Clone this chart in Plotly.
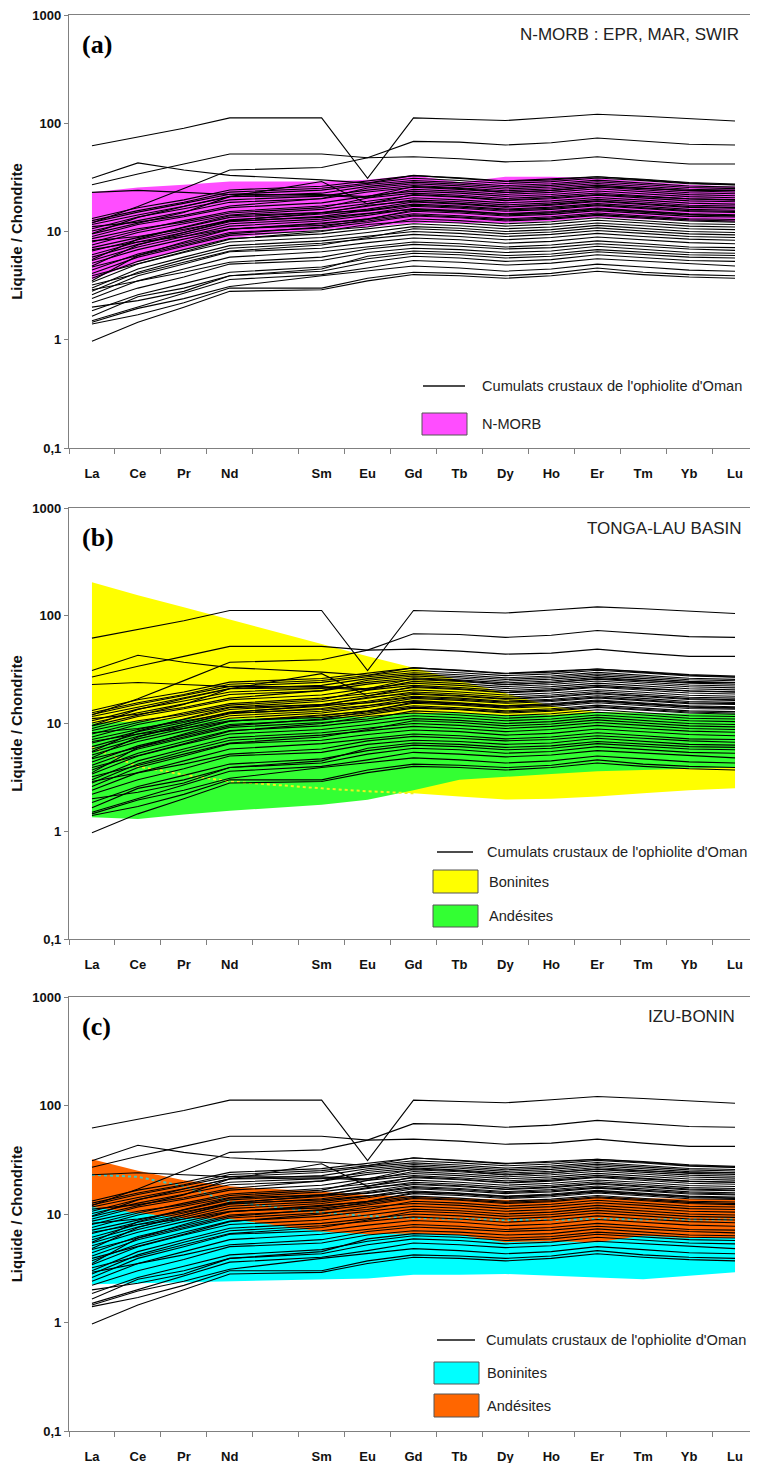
import plotly.graph_objects as go

# ---------------- data ----------------
SLOTS = ["La", "Ce", "Pr", "Nd", "Pm", "Sm", "Eu", "Gd", "Tb", "Dy", "Ho", "Er", "Tm", "Yb", "Lu"]
ELEMENTS = ["La", "Ce", "Pr", "Nd", "Sm", "Eu", "Gd", "Tb", "Dy", "Ho", "Er", "Tm", "Yb", "Lu"]
Y_TICKVALS = [0.1, 1, 10, 100, 1000]
Y_TICKTEXT = ["0,1", "1", "10", "100", "1000"]

# Oman ophiolite crustal cumulates (chondrite-normalised), one row per sample
OMAN_CUMULATES = [
    [62, 75, 90, 112, 112, 31, 112, 109, 106, 113, 121, 116, 110, 105],
    [27, 34, 42, 52, 52, 48, 68, 67, 63, 66, 73, 68, 64, 63],
    [31, 43, 37, 33, 30, 28, 33, 31, 29, 30, 32, 30, 28, 27],
    [12, 17, 25, 37, 39, 48, 49, 47, 44, 45, 49, 45, 42, 42],
    [23, 24, 23, 22, 22, 21, 26, 25, 23, 24, 26, 25, 24, 24],
    [9.5, 12, 15, 21, 29, 18, 22, 21, 19.5, 20.5, 22, 21, 20, 19.5],
    [7.5, 9.8, 11.8, 14.2, 16.0, 18.2, 20.5, 19.6, 18.4, 19.2, 20.6, 19.5, 18.3, 17.9],
    [8.0, 10.2, 12.6, 15.3, 17.2, 19.0, 21.6, 20.7, 19.3, 20.1, 21.7, 20.5, 19.2, 18.8],
    [8.6, 10.6, 12.2, 14.8, 16.6, 20.4, 22.6, 21.6, 20.2, 21.1, 22.7, 21.5, 20.1, 19.7],
    [9.0, 11.6, 13.7, 16.6, 18.4, 21.2, 23.6, 22.6, 21.1, 22.0, 23.7, 22.4, 21.0, 20.5],
    [9.6, 13.5, 17.0, 21.0, 21.5, 20.5, 24.6, 23.5, 22.0, 23.0, 24.8, 23.4, 21.9, 21.4],
    [10.1, 12.6, 15.2, 18.6, 20.1, 23.2, 25.6, 24.5, 22.9, 23.9, 25.8, 24.4, 22.8, 22.3],
    [10.6, 13.6, 16.2, 19.6, 21.2, 24.1, 26.6, 25.4, 23.8, 24.8, 26.8, 25.3, 23.7, 23.2],
    [11.1, 12.2, 14.1, 17.2, 20.2, 25.2, 27.6, 26.4, 24.7, 25.8, 27.8, 26.3, 24.6, 24.0],
    [11.6, 14.2, 17.1, 21.1, 22.6, 26.1, 28.6, 27.3, 25.6, 26.7, 28.8, 27.2, 25.5, 24.9],
    [12.1, 15.1, 18.2, 22.1, 24.1, 27.2, 29.6, 28.3, 26.5, 27.6, 29.8, 28.2, 26.3, 25.7],
    [12.6, 15.6, 18.6, 23.1, 25.1, 28.1, 31.0, 29.6, 27.8, 28.9, 31.2, 29.5, 27.6, 26.9],
    [13.2, 16.6, 19.6, 24.2, 26.2, 29.2, 32.8, 31.3, 29.3, 30.6, 32.0, 30.4, 28.4, 27.5],
    [5.5, 8.5, 11.0, 14.0, 15.0, 15.5, 17.5, 16.8, 15.8, 16.4, 17.6, 16.7, 15.6, 15.3],
    [8.2, 9.0, 10.5, 12.5, 13.5, 14.8, 16.0, 15.4, 14.5, 15.0, 16.2, 15.3, 14.4, 14.0],
    [4.8, 7.5, 9.8, 12.6, 14.8, 17.5, 19.0, 18.2, 17.0, 17.8, 19.2, 18.1, 17.0, 16.6],
    [6.8, 8.0, 9.0, 10.6, 11.4, 12.5, 14.2, 13.6, 12.8, 13.3, 14.4, 13.6, 12.8, 12.5],
    [3.5, 6.0, 8.0, 10.5, 12.0, 13.0, 15.8, 15.2, 14.2, 14.8, 16.0, 15.1, 14.2, 13.9],
    [2.9, 3.5, 4.2, 5.2, 5.8, 6.9, 7.6, 7.3, 6.9, 7.1, 7.7, 7.3, 6.9, 6.7],
    [2.4, 3.5, 4.5, 5.8, 6.5, 7.2, 8.0, 7.7, 7.2, 7.5, 8.2, 7.7, 7.2, 7.1],
    [2.6, 3.9, 5.0, 6.5, 7.0, 7.9, 8.7, 8.4, 7.8, 8.1, 8.9, 8.4, 7.9, 7.7],
    [2.8, 4.2, 5.5, 7.0, 7.8, 8.5, 9.4, 9.0, 8.4, 8.8, 9.6, 9.0, 8.5, 8.3],
    [3.0, 4.5, 5.8, 7.4, 8.2, 9.1, 10.0, 9.6, 9.0, 9.4, 10.2, 9.6, 9.0, 8.8],
    [3.2, 4.1, 5.2, 6.6, 7.5, 8.8, 10.6, 10.2, 9.5, 9.9, 10.8, 10.1, 9.5, 9.3],
    [3.4, 5.0, 6.4, 8.0, 8.8, 9.8, 11.1, 10.7, 10.0, 10.4, 11.4, 10.7, 10.0, 9.8],
    [3.7, 5.3, 6.8, 8.6, 9.5, 10.6, 11.8, 11.3, 10.6, 11.0, 12.0, 11.3, 10.6, 10.4],
    [3.9, 5.0, 6.5, 8.5, 10.0, 11.6, 12.5, 12.0, 11.2, 11.7, 12.7, 12.0, 11.2, 11.0],
    [4.1, 5.8, 7.3, 9.2, 10.2, 11.0, 13.1, 12.6, 11.8, 12.3, 13.4, 12.6, 11.8, 11.6],
    [4.4, 6.2, 7.8, 9.8, 10.8, 12.1, 13.9, 13.4, 12.5, 13.0, 14.1, 13.3, 12.5, 12.2],
    [4.7, 6.0, 7.5, 9.5, 11.0, 12.9, 14.6, 14.0, 13.1, 13.7, 14.8, 14.0, 13.1, 12.9],
    [5.1, 6.8, 8.5, 10.5, 11.8, 13.1, 15.4, 14.8, 13.9, 14.4, 15.6, 14.7, 13.8, 13.6],
    [5.4, 7.2, 9.0, 11.2, 12.5, 14.1, 16.3, 15.6, 14.6, 15.3, 16.5, 15.5, 14.6, 14.3],
    [5.8, 7.6, 9.4, 11.8, 13.0, 14.6, 17.1, 16.4, 15.4, 16.0, 17.3, 16.3, 15.3, 15.0],
    [6.1, 8.0, 9.8, 12.3, 13.8, 15.6, 17.9, 17.2, 16.1, 16.8, 18.1, 17.1, 16.0, 15.7],
    [6.6, 8.4, 10.2, 12.8, 14.5, 16.1, 18.7, 17.9, 16.8, 17.5, 18.9, 17.8, 16.7, 16.4],
    [7.1, 8.8, 10.8, 13.5, 15.0, 17.1, 19.6, 18.8, 17.6, 18.4, 19.8, 18.7, 17.5, 17.2],
    [0.97, 1.45, 2.0, 2.8, 2.9, 3.5, 4.0, 3.9, 3.7, 3.9, 4.3, 4.0, 3.8, 3.7],
    [1.4, 1.7, 2.2, 3.0, 3.0, 3.7, 4.2, 4.1, 3.9, 4.1, 4.6, 4.2, 4.0, 3.9],
    [1.45, 1.95, 2.4, 3.1, 3.9, 4.3, 4.8, 4.6, 4.3, 4.5, 5.0, 4.7, 4.4, 4.3],
    [1.5, 2.0, 2.7, 3.6, 4.0, 4.6, 5.4, 5.2, 4.9, 5.1, 5.6, 5.3, 5.0, 4.8],
    [1.65, 2.5, 3.0, 3.9, 4.3, 5.2, 5.9, 5.7, 5.3, 5.5, 6.1, 5.7, 5.4, 5.3],
    [1.85, 2.6, 3.3, 4.2, 4.7, 5.6, 6.3, 6.1, 5.7, 5.9, 6.5, 6.1, 5.8, 5.7],
    [2.0, 2.3, 2.8, 3.9, 4.5, 5.9, 6.6, 6.4, 6.0, 6.2, 6.8, 6.4, 6.1, 6.0],
    [2.2, 3.0, 3.8, 5.0, 5.4, 6.4, 7.0, 6.8, 6.4, 6.6, 7.3, 6.8, 6.4, 6.3],
]

# (a) N-MORB field (EPR, MAR, SWIR)
NMORB_UPPER = [23, 25.5, 27, 29, 29, 30, 33, 28.5, 32, 32, 31, 29, 27, 26]
NMORB_LOWER = [3.6, 5.2, 6.8, 8.7, 10.5, 11, 12, 12, 12, 12.5, 13.5, 13, 12.5, 12.3]

# (b) Tonga-Lau basin fields
TONGA_BON_UPPER = [205, 155, 120, 92, 54, 42, 33, 25, 19, 14.5, 12.8, 12.5, 12, 12]
TONGA_BON_LOWER = [6.0, 4.0, 3.35, 2.9, 2.5, 2.35, 2.25, 2.1, 1.97, 2.0, 2.1, 2.25, 2.4, 2.5]
TONGA_AND_UPPER = [10, 10.5, 11, 11, 11.5, 11.5, 12.5, 12.5, 12, 12, 12.8, 12.5, 12.3, 12.4]
TONGA_AND_LOWER = [1.35, 1.3, 1.43, 1.55, 1.76, 1.96, 2.4, 3.0, 3.2, 3.4, 3.6, 3.7, 3.8, 3.9]

# (c) Izu-Bonin fields
IZU_BON_UPPER = [23, 22, 18, 13, 10.3, 9.6, 9.2, 9.0, 8.8, 8.8, 9.0, 8.9, 8.9, 8.9]
IZU_BON_LOWER = [2.25, 2.3, 2.35, 2.4, 2.5, 2.55, 2.75, 2.75, 2.8, 2.7, 2.6, 2.5, 2.7, 2.9]
IZU_AND_UPPER = [32, 25, 20.5, 18, 16, 15, 14.5, 14, 13.5, 13.5, 14.5, 14, 13.8, 13.6]
IZU_AND_LOWER = [11.6, 10.2, 9.2, 9.0, 6.9, 6.5, 6.6, 6.4, 5.5, 5.6, 5.5, 6.3, 6.0, 6.0]

PANEL_TITLES = ["N-MORB : EPR, MAR, SWIR", "TONGA-LAU BASIN", "IZU-BONIN"]
PANEL_LETTERS = ["(a)", "(b)", "(c)"]
LINE_LABEL = "Cumulats crustaux de l'ophiolite d'Oman"

# ---------------- layout geometry (pixels, reference-page coordinates) ----------------
PAGE_OFFSET = 8          # default body margin of the html page
W, H = 758 - PAGE_OFFSET, 1463 - PAGE_OFFSET
ML, MR, MT, MB = 69 - PAGE_OFFSET, 0, 15 - PAGE_OFFSET, 32
PW, PH = W - ML - MR, H - MT - MB
PANEL_TOP = [15, 508, 997]
PANEL_BOT = [448, 939, 1431]


def px(x):
    return (x - PAGE_OFFSET - ML) / PW


def py(y):
    return 1 - (y - PAGE_OFFSET - MT) / PH


XPOS = [SLOTS.index(e) for e in ELEMENTS]
BOUNDS = [k - 0.5 for k in range(len(SLOTS) + 1)]

FONT = "Liberation Sans, Arial, sans-serif"
AXIS_GRAY = "#808080"

fig = go.Figure()


def add_band(i, upper, lower, color):
    fig.add_trace(go.Scatter(
        x=XPOS + XPOS[::-1], y=upper + lower[::-1],
        fill="toself", fillcolor=color, mode="lines",
        line=dict(width=0, color=color), hoverinfo="skip", showlegend=False,
        xaxis=f"x{i}", yaxis=f"y{i}"))


def add_dotted(i, vals, color, n=None):
    xs = XPOS if n is None else XPOS[:n]
    ys = vals if n is None else vals[:n]
    fig.add_trace(go.Scatter(
        x=xs, y=ys, mode="lines", line=dict(color=color, width=2, dash="dot"),
        hoverinfo="skip", showlegend=False, xaxis=f"x{i}", yaxis=f"y{i}"))


def add_cumulates(i):
    for row in OMAN_CUMULATES:
        fig.add_trace(go.Scatter(
            x=XPOS, y=row, mode="lines", line=dict(color="#000000", width=1.1),
            hoverinfo="skip", showlegend=False, xaxis=f"x{i}", yaxis=f"y{i}"))


# panel (a)
add_band(1, NMORB_UPPER, NMORB_LOWER, "#FF4DFF")
add_cumulates(1)
# panel (b)
add_band(2, TONGA_BON_UPPER, TONGA_BON_LOWER, "#FFFF00")
add_band(2, TONGA_AND_UPPER, TONGA_AND_LOWER, "#33FF33")
add_dotted(2, TONGA_BON_LOWER, "#F0F020", n=7)
add_cumulates(2)
# panel (c)
add_band(3, IZU_BON_UPPER, IZU_BON_LOWER, "#00FFFF")
add_band(3, IZU_AND_UPPER, IZU_AND_LOWER, "#FF6600")
add_dotted(3, IZU_BON_UPPER, "#3CC8C0")
add_cumulates(3)

layout = dict(
    width=W, height=H, margin=dict(l=ML, r=MR, t=MT, b=MB),
    paper_bgcolor="white", plot_bgcolor="white", showlegend=False,
    font=dict(family=FONT, color="#111111"),
)

for i in range(3):
    k = "" if i == 0 else str(i + 1)
    layout[f"xaxis{k}"] = dict(
        domain=[0, 1], anchor=f"y{i + 1}", range=[-0.5, 14.5],
        tickmode="array", tickvals=XPOS, ticktext=ELEMENTS,
        ticks="outside", ticklen=13, tickcolor="rgba(0,0,0,0)",
        tickfont=dict(family=FONT, size=13, color="#111111", weight="bold"),
        ticklabeloverflow="allow",
        showline=True, linecolor=AXIS_GRAY, linewidth=1.3, mirror=True,
        showgrid=False, zeroline=False,
        minor=dict(tickmode="array", tickvals=BOUNDS, ticks="outside",
                   ticklen=5, tickcolor=AXIS_GRAY, tickwidth=1, showgrid=False),
    )
    layout[f"yaxis{k}"] = dict(
        domain=[py(PANEL_BOT[i]), py(PANEL_TOP[i])], anchor=f"x{i + 1}",
        type="log", range=[-1, 3],
        tickmode="array", tickvals=Y_TICKVALS, ticktext=Y_TICKTEXT,
        ticks="outside", ticklen=4, tickcolor=AXIS_GRAY,
        tickfont=dict(family=FONT, size=13, color="#111111", weight="bold"),
        ticklabeloverflow="allow",
        showline=True, linecolor=AXIS_GRAY, linewidth=1.3,
        showgrid=False, zeroline=False,
        title=dict(text="Liquide / Chondrite", standoff=8,
                   font=dict(family=FONT, size=15, color="#111111", weight="bold")),
    )

fig.update_layout(**layout)

annotations = []
shapes = []

letter_y = [45, 537, 1026]
title_pos = [(741, 34), (744, 528), (737, 1016)]
for i in range(3):
    annotations.append(dict(
        xref="paper", yref="paper", x=px(80), y=py(letter_y[i]),
        xanchor="left", yanchor="middle", showarrow=False,
        text=f"<b>{PANEL_LETTERS[i]}</b>",
        font=dict(family="Liberation Serif, Times New Roman, serif", size=26, color="#000000")))
    annotations.append(dict(
        xref="paper", yref="paper", x=px(title_pos[i][0]), y=py(title_pos[i][1]),
        xanchor="right", yanchor="middle", showarrow=False, text=PANEL_TITLES[i],
        font=dict(family=FONT, size=17, color="#222222")))

LEG_FONT = dict(family=FONT, size=14.6, color="#222222")


def legend_line(x0, x1, y, tx):
    shapes.append(dict(type="line", xref="paper", yref="paper",
                       x0=px(x0), x1=px(x1), y0=py(y), y1=py(y),
                       line=dict(color="#111111", width=1.6)))
    annotations.append(dict(xref="paper", yref="paper", x=px(tx), y=py(y),
                            xanchor="left", yanchor="middle", showarrow=False,
                            text=LINE_LABEL, font=LEG_FONT))


def legend_box(x0, x1, y0, y1, color, tx, label):
    shapes.append(dict(type="rect", xref="paper", yref="paper",
                       x0=px(x0), x1=px(x1), y0=py(y1), y1=py(y0),
                       fillcolor=color, line=dict(color="#555555", width=1)))
    annotations.append(dict(xref="paper", yref="paper", x=px(tx), y=py((y0 + y1) / 2),
                            xanchor="left", yanchor="middle", showarrow=False,
                            text=label, font=LEG_FONT))


legend_line(423, 465, 386, 480)
legend_box(422, 467, 413, 435, "#FF4DFF", 480, "N-MORB")

legend_line(437, 473, 852, 485)
legend_box(433, 478, 870, 893, "#FFFF00", 487, "Boninites")
legend_box(433, 478, 905, 927, "#33FF33", 487, "Andésites")

legend_line(437, 475, 1340, 484)
legend_box(434, 479, 1362, 1384, "#00FFFF", 485, "Boninites")
legend_box(434, 479, 1394, 1417, "#FF6600", 485, "Andésites")

fig.update_layout(annotations=annotations, shapes=shapes)

fig.write_html("out.html")
